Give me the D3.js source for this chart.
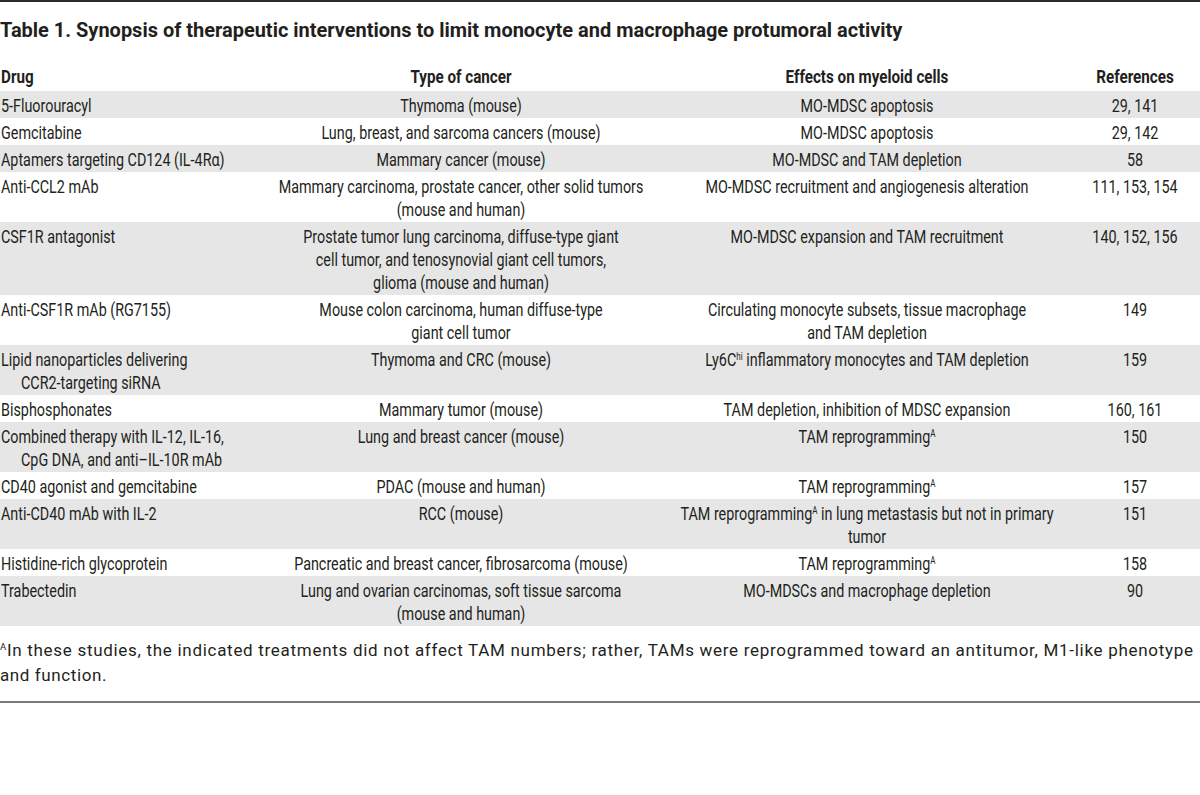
<!DOCTYPE html>
<html>
<head>
<meta charset="utf-8">
<script src="https://cdn.jsdelivr.net/npm/d3@7"></script>
<style>
  html, body { margin: 0; padding: 0; background: #fff; }
  svg { display: block; }
  text { fill: #231f20; font-family: Roboto, "Noto Sans", sans-serif; }
</style>
</head>
<body>
<svg id="chart" width="1200" height="795"></svg>
<script>
// ---------- DATA ----------
const title = "Table 1. Synopsis of therapeutic interventions to limit monocyte and macrophage protumoral activity";
const headers = ["Drug", "Type of cancer", "Effects on myeloid cells", "References"];

const drugs = [
  ["5-Fluorouracyl"],
  ["Gemcitabine"],
  ["Aptamers targeting CD124 (IL-4Rα)"],
  ["Anti-CCL2 mAb"],
  ["CSF1R antagonist"],
  ["Anti-CSF1R mAb (RG7155)"],
  ["Lipid nanoparticles delivering", "CCR2-targeting siRNA"],
  ["Bisphosphonates"],
  ["Combined therapy with IL-12, IL-16,", "CpG DNA, and anti–IL-10R mAb"],
  ["CD40 agonist and gemcitabine"],
  ["Anti-CD40 mAb with IL-2"],
  ["Histidine-rich glycoprotein"],
  ["Trabectedin"]
];

const cancerTypes = [
  ["Thymoma (mouse)"],
  ["Lung, breast, and sarcoma cancers (mouse)"],
  ["Mammary cancer (mouse)"],
  ["Mammary carcinoma, prostate cancer, other solid tumors", "(mouse and human)"],
  ["Prostate tumor lung carcinoma, diffuse-type giant", "cell tumor, and tenosynovial giant cell tumors,", "glioma (mouse and human)"],
  ["Mouse colon carcinoma, human diffuse-type", "giant cell tumor"],
  ["Thymoma and CRC (mouse)"],
  ["Mammary tumor (mouse)"],
  ["Lung and breast cancer (mouse)"],
  ["PDAC (mouse and human)"],
  ["RCC (mouse)"],
  ["Pancreatic and breast cancer, fibrosarcoma (mouse)"],
  ["Lung and ovarian carcinomas, soft tissue sarcoma", "(mouse and human)"]
];

const effects = [
  ["MO-MDSC apoptosis"],
  ["MO-MDSC apoptosis"],
  ["MO-MDSC and TAM depletion"],
  ["MO-MDSC recruitment and angiogenesis alteration"],
  ["MO-MDSC expansion and TAM recruitment"],
  ["Circulating monocyte subsets, tissue macrophage", "and TAM depletion"],
  ["Ly6C^{hi} inflammatory monocytes and TAM depletion"],
  ["TAM depletion, inhibition of MDSC expansion"],
  ["TAM reprogramming^{A}"],
  ["TAM reprogramming^{A}"],
  ["TAM reprogramming^{A} in lung metastasis but not in primary", "tumor"],
  ["TAM reprogramming^{A}"],
  ["MO-MDSCs and macrophage depletion"]
];

const references = [
  ["29, 141"], ["29, 142"], ["58"], ["111, 153, 154"], ["140, 152, 156"],
  ["149"], ["159"], ["160, 161"], ["150"], ["157"], ["151"], ["158"], ["90"]
];

const footnote = [
  "^{A}In these studies, the indicated treatments did not affect TAM numbers; rather, TAMs were reprogrammed toward an antitumor, M1-like phenotype",
  "and function."
];

// ---------- LAYOUT ----------
const svg = d3.select("#chart");
const W = 1200;
const bodyTop = 91, lineH = 23, rowPad = 4;
const colX = [1, 461, 867, 1135];
const anchors = ["start", "middle", "middle", "middle"];
const columns = [drugs, cancerTypes, effects, references];

const nLines = drugs.map((_, i) => d3.max(columns, c => c[i].length));
const heights = nLines.map(n => rowPad + lineH * n);
const tops = [bodyTop, ...Array.from(d3.cumsum(heights)).map(v => bodyTop + v)];

// measure helper for horizontal condensing
function measure(str, size, weight) {
  const t = svg.append("text").attr("font-size", size).attr("font-weight", weight).text(str);
  const w = t.node().getComputedTextLength();
  t.remove();
  return w;
}
const bodySize = 18, headSize = 18, titleSize = 21;
const bodyScale = 196 / measure("CD40 agonist and gemcitabine", bodySize, 400);
const headScale = 163 / measure("Effects on myeloid cells", headSize, 700);
const titleScale = 903 / measure(title, titleSize, 700);

function richText(g, str, x, y, anchor, scale, size, weight) {
  const t = g.append("text")
    .attr("transform", `translate(${x},${y}) scale(${scale},1)`)
    .attr("text-anchor", anchor)
    .attr("font-size", size)
    .attr("font-weight", weight);
  const parts = str.split(/(\^\{[^}]*\})/).filter(p => p.length);
  let shift = 0;
  parts.forEach(p => {
    const m = p.match(/^\^\{(.*)\}$/);
    if (m) {
      t.append("tspan").attr("font-size", size * 0.56).attr("dy", -6 - shift).text(m[1]);
      shift = -6;
    } else {
      t.append("tspan").attr("dy", -shift).text(p);
      shift = 0;
    }
  });
  return t;
}

// top rule
svg.append("rect").attr("x", 0).attr("y", 0).attr("width", W).attr("height", 2).attr("fill", "#2b2b2b");

// title
richText(svg, title, 0, 37, "start", titleScale, titleSize, 700);

// header
headers.forEach((h, j) => {
  richText(svg, h, colX[j], 83, anchors[j], headScale, headSize, 700);
});

// row bands
svg.append("g").selectAll("rect")
  .data(drugs.map((_, i) => i).filter(i => i % 2 === 0))
  .join("rect")
  .attr("x", 0).attr("width", W)
  .attr("y", i => tops[i])
  .attr("height", i => heights[i])
  .attr("fill", "#e6e6e6");

// cells
const body = svg.append("g");
drugs.forEach((_, i) => {
  columns.forEach((col, j) => {
    col[i].forEach((line, k) => {
      const x = colX[j] + (j === 0 && k > 0 ? 20 : 0);
      richText(body, line, x, tops[i] + 21 + k * lineH, anchors[j], bodyScale, bodySize, 400);
    });
  });
});

// footnote
const fn = svg.append("g");
const f1 = richText(fn, footnote[0], 0, 656, "start", 1, 17, 400);
f1.attr("textLength", 1193).attr("lengthAdjust", "spacing");
richText(fn, footnote[1], 0, 681, "start", 1, 17, 400)
  .attr("letter-spacing", 0.6);

// bottom rule
svg.append("rect").attr("x", 0).attr("y", 701).attr("width", W).attr("height", 2).attr("fill", "#7a7a7a");
</script>
</body>
</html>
